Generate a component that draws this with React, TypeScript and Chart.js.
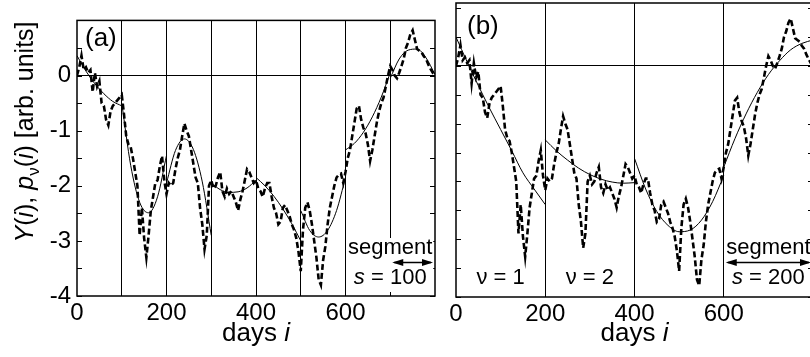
import React, { useEffect, useRef } from "react";
import { Chart, registerables } from "chart.js";
Chart.register(...registerables);

const FONT = "'Liberation Sans', Arial, Helvetica, sans-serif";

// profile Y(i), sampled every 5 days
const profileDays = [
  0, 5, 10, 15, 20, 25, 30, 35, 40, 45, 50, 55, 60, 65, 70, 75, 80, 85, 90, 95,
  100, 105, 110, 115, 120, 125, 130, 135, 140, 145, 150, 155, 160, 165, 170, 175, 180, 185, 190, 195,
  200, 205, 210, 215, 220, 225, 230, 235, 240, 245, 250, 255, 260, 265, 270, 275, 280, 285, 290, 295,
  300, 305, 310, 315, 320, 325, 330, 335, 340, 345, 350, 355, 360, 365, 370, 375, 380, 385, 390, 395,
  400, 405, 410, 415, 420, 425, 430, 435, 440, 445, 450, 455, 460, 465, 470, 475, 480, 485, 490, 495,
  500, 505, 510, 515, 520, 525, 530, 535, 540, 545, 550, 555, 560, 565, 570, 575, 580, 585, 590, 595,
  600, 605, 610, 615, 620, 625, 630, 635, 640, 645, 650, 655, 660, 665, 670, 675, 680, 685, 690, 695,
  700, 705, 710, 715, 720, 725, 730, 735, 740, 745, 750, 755, 760, 765, 770, 775, 780, 785, 790, 795,
  800,
];
const profileY = [
  0.0, 0.15, 0.36, 0.1, 0.15, 0.05, 0.1, -0.3, 0.05, -0.2, -0.1, -0.5, -0.55, -0.8, -0.9, -0.65, -0.55, -0.5, -0.45, -0.4,
  -0.35, -0.7, -1.1, -1.25, -1.3, -1.5, -1.75, -2.0, -2.9, -2.4, -2.95, -3.3, -2.9, -2.45, -2.2, -1.95, -1.9, -1.65, -1.46, -1.9,
  -2.15, -1.95, -2.0, -1.95, -1.7, -1.5, -1.35, -1.1, -0.87, -1.0, -1.1, -1.35, -1.6, -1.85, -1.95, -2.4, -2.7, -3.15, -2.9, -2.0,
  -1.9, -2.05, -2.0, -1.85, -1.75, -2.1, -2.2, -2.05, -2.15, -2.1, -2.2, -2.3, -2.45, -2.25, -2.1, -1.9, -1.7, -1.75, -1.85, -1.95,
  -1.9, -2.05, -2.1, -2.2, -2.05, -1.95, -1.95, -2.2, -2.4, -2.5, -2.7, -2.65, -2.4, -2.35, -2.45, -2.55, -2.7, -2.8, -2.95, -3.2,
  -3.55, -2.8, -2.4, -2.3, -2.45, -2.7, -3.0, -3.3, -3.7, -3.8, -3.35, -3.1, -2.7, -2.4, -2.2, -2.0, -1.85, -1.8, -1.78, -1.95,
  -1.75, -1.5, -1.35, -1.1, -0.85, -0.6, -0.55, -0.8, -0.95, -1.05, -1.25, -1.55, -1.35, -1.1, -0.85, -0.65, -0.5, -0.4, -0.2, 0.0,
  0.17, 0.1, 0.0, -0.05, 0.05, 0.17, 0.3, 0.5, 0.6, 0.75, 0.82, 0.65, 0.48, 0.45, 0.42, 0.35, 0.3, 0.2, 0.12, 0.05,
  0.0,
];

// panel (a): fits in segments of s = 100 days
const fitAStarts = [0, 100, 200, 300, 400, 500, 600, 700];
const fitAOffsets = [0, 20, 40, 60, 80, 100];
const fitAValues = [
  [0.36, 0.08, -0.15, -0.33, -0.47, -0.55],
  [-0.5, -1.63, -2.3, -2.49, -2.2, -1.45],
  [-1.95, -1.36, -1.15, -1.34, -1.93, -2.9],
  [-1.95, -2.07, -2.12, -2.11, -2.04, -1.9],
  [-1.85, -2.0, -2.19, -2.42, -2.69, -3.0],
  [-2.45, -2.81, -2.93, -2.81, -2.45, -1.85],
  [-1.35, -1.23, -1.03, -0.75, -0.39, 0.05],
  [-0.05, 0.3, 0.46, 0.48, 0.32, 0.02],
];

// panel (b): fits in segments of s = 200 days
const fitBStarts = [0, 200, 400, 600];
const fitBOffsets = [0, 25, 50, 75, 100, 125, 150, 175, 200];
const fitBValues = [
  [0.5, 0.07, -0.34, -0.73, -1.1, -1.47, -1.85, -2.13, -2.4],
  [-1.28, -1.47, -1.63, -1.77, -1.88, -1.96, -2.01, -2.03, -2.02],
  [-1.6, -2.13, -2.52, -2.76, -2.87, -2.84, -2.67, -2.35, -1.9],
  [-1.75, -1.26, -0.83, -0.46, -0.15, 0.09, 0.28, 0.39, 0.45],
];

const yTickValues = [-4, -3.5, -3, -2.5, -2, -1.5, -1, -0.5, 0, 0.5, 1];
const xLabelValues = [0, 200, 400, 600];

type Part = { t: string; it?: boolean; sub?: boolean };

function partFont(p: Part, size: number) {
  const s = p.sub ? size * 0.68 : size;
  return `${p.it ? "italic " : ""}${s}px ${FONT}`;
}
function richWidth(ctx: CanvasRenderingContext2D, parts: Part[], size: number) {
  let w = 0;
  for (const p of parts) {
    ctx.font = partFont(p, size);
    w += ctx.measureText(p.t).width;
  }
  return w;
}
function drawRich(
  ctx: CanvasRenderingContext2D,
  parts: Part[],
  x: number,
  y: number,
  size: number,
  align: "left" | "center" = "center"
) {
  const w = richWidth(ctx, parts, size);
  let cx = align === "center" ? x - w / 2 : x;
  ctx.textAlign = "left";
  ctx.textBaseline = "alphabetic";
  ctx.fillStyle = "#000";
  for (const p of parts) {
    ctx.font = partFont(p, size);
    ctx.fillText(p.t, cx, y + (p.sub ? size * 0.24 : 0));
    cx += ctx.measureText(p.t).width;
  }
}

function arrowHead(ctx: CanvasRenderingContext2D, x: number, y: number, dir: number) {
  ctx.beginPath();
  ctx.moveTo(x, y);
  ctx.lineTo(x - dir * 11, y - 3.5);
  ctx.lineTo(x - dir * 11, y + 3.5);
  ctx.closePath();
  ctx.fill();
}

function buildFit(starts: number[], offsets: number[], values: number[][]) {
  const pts: { x: number; y: number | null }[] = [];
  starts.forEach((s, k) => {
    offsets.forEach((o, j) => pts.push({ x: s + o, y: values[k][j] }));
    if (k < starts.length - 1) pts.push({ x: s + offsets[offsets.length - 1], y: null });
  });
  return pts;
}

type PanelOpts = {
  letter: string;
  letterDx: number;
  letterDy: number;
  yMax: number;
  xStep: number;
  yLabels: boolean;
  yAxisWidth: number;
  padRight: number;
  xAxisHeight: number;
  segStart: number;
  segLabel: string;
  segCenter: number;
  whiteBox: boolean;
  nuLabels: boolean;
  fit: { x: number; y: number | null }[];
};

function makeChart(canvas: HTMLCanvasElement, o: PanelOpts) {
  const profile = profileDays.map((d, k) => ({ x: d, y: profileY[k] }));
  const plugin = {
    id: "decor" + o.letter,
    afterDraw(chart: any) {
      const ctx: CanvasRenderingContext2D = chart.ctx;
      const ca = chart.chartArea;
      const xs = chart.scales.x;
      const ys = chart.scales.y;
      ctx.save();
      // box
      ctx.strokeStyle = "#000";
      ctx.lineWidth = 1.5;
      ctx.strokeRect(ca.left, ca.top, ca.right - ca.left, ca.bottom - ca.top);
      // inward ticks
      ctx.lineWidth = 1.2;
      for (const t of ys.ticks) {
        const py = Math.round(ys.getPixelForValue(t.value)) + 0.5;
        ctx.beginPath();
        ctx.moveTo(ca.left, py);
        ctx.lineTo(ca.left + 5, py);
        ctx.moveTo(ca.right, py);
        ctx.lineTo(ca.right - 5, py);
        ctx.stroke();
      }
      // y title
      if (o.yLabels) {
        ctx.save();
        ctx.translate(33, 132);
        ctx.rotate(-Math.PI / 2);
        drawRich(
          ctx,
          [
            { t: "Y", it: true },
            { t: "(" },
            { t: "i", it: true },
            { t: "), " },
            { t: "p", it: true },
            { t: "ν", sub: true },
            { t: "(" },
            { t: "i", it: true },
            { t: ") [arb. units]" },
          ],
          0,
          0,
          25
        );
        ctx.restore();
      }
      // x title
      drawRich(ctx, [{ t: "days " }, { t: "i", it: true }], (ca.left + ca.right) / 2, 341, 26);
      // panel letter
      drawRich(ctx, [{ t: o.letter }], ca.left + o.letterDx, ca.top + o.letterDy, 26, "left");
      // segment annotation
      const cx = xs.getPixelForValue(o.segCenter);
      if (o.whiteBox) {
        ctx.fillStyle = "#fff";
        ctx.fillRect(cx - 43, 238, 86, 54);
      }
      drawRich(ctx, [{ t: "segment" }], cx, 254, 22);
      const x1 = xs.getPixelForValue(o.segStart);
      const x2 = xs.getPixelForValue(800);
      ctx.fillStyle = "#000";
      ctx.strokeStyle = "#000";
      ctx.lineWidth = 1.6;
      ctx.beginPath();
      ctx.moveTo(x1 + 4, 262.5);
      ctx.lineTo(x2 - 4, 262.5);
      ctx.stroke();
      arrowHead(ctx, x1 + 2, 262.5, -1);
      arrowHead(ctx, x2 - 2, 262.5, 1);
      drawRich(ctx, [{ t: "s", it: true }, { t: " = " + o.segLabel }], cx, 284, 22);
      if (o.nuLabels) {
        drawRich(ctx, [{ t: "ν = 1" }], xs.getPixelForValue(100), 284, 22);
        drawRich(ctx, [{ t: "ν = 2" }], xs.getPixelForValue(300), 284, 22);
      }
      ctx.restore();
    },
  };

  return new Chart(canvas, {
    type: "line",
    data: {
      datasets: [
        {
          data: profile,
          borderColor: "#000",
          borderWidth: 2.6,
          borderDash: [6, 3],
          pointRadius: 0,
          tension: 0,
        },
        {
          data: o.fit,
          borderColor: "#000",
          borderWidth: 1,
          pointRadius: 0,
          cubicInterpolationMode: "monotone",
          spanGaps: false,
        },
      ],
    } as any,
    options: {
      responsive: false,
      animation: false,
      devicePixelRatio: 1,
      layout: { padding: { top: 3, right: o.padRight, left: 0, bottom: 0 } },
      plugins: { legend: { display: false }, tooltip: { enabled: false } },
      scales: {
        x: {
          type: "linear",
          min: 0,
          max: 800,
          ticks: {
            stepSize: o.xStep,
            color: "#000",
            font: { family: FONT, size: 24 },
            padding: 3,
            maxRotation: 0,
            autoSkip: false,
            callback: (v: any) => (xLabelValues.includes(Number(v)) ? String(v) : ""),
          },
          grid: {
            drawTicks: false,
            color: (c: any) =>
              c.tick && c.tick.value > 0 && c.tick.value < 800 ? "#000" : "rgba(0,0,0,0)",
            lineWidth: 1,
          },
          border: { display: false },
          afterFit: (s: any) => {
            s.height = o.xAxisHeight;
          },
        },
        y: {
          type: "linear",
          min: -4,
          max: o.yMax,
          afterBuildTicks: (s: any) => {
            s.ticks = yTickValues.map((v) => ({ value: v }));
          },
          ticks: {
            display: o.yLabels,
            color: "#000",
            font: { family: FONT, size: 24 },
            padding: 6,
            autoSkip: false,
            callback: (v: any) => (Number.isInteger(Number(v)) && Number(v) <= 0 ? String(v) : ""),
          },
          grid: {
            drawTicks: false,
            color: (c: any) => (c.tick && c.tick.value === 0 ? "#000" : "rgba(0,0,0,0)"),
            lineWidth: 1,
          },
          border: { display: false },
          afterFit: (s: any) => {
            s.width = o.yAxisWidth;
          },
        },
      },
    } as any,
    plugins: [plugin],
  });
}

export default function App() {
  const refA = useRef<HTMLCanvasElement>(null);
  const refB = useRef<HTMLCanvasElement>(null);
  useEffect(() => {
    const a = makeChart(refA.current!, {
      letter: "(a)",
      letterDx: 8,
      letterDy: 26,
      yMax: 1,
      xStep: 100,
      yLabels: true,
      yAxisWidth: 77,
      padRight: 10,
      xAxisHeight: 61,
      segStart: 700,
      segLabel: "100",
      segCenter: 700,
      whiteBox: true,
      nuLabels: false,
      fit: buildFit(fitAStarts, fitAOffsets, fitAValues),
    });
    const b = makeChart(refB.current!, {
      letter: "(b)",
      letterDx: 11,
      letterDy: 31,
      yMax: 1.09,
      xStep: 200,
      yLabels: false,
      yAxisWidth: 16,
      padRight: 17,
      xAxisHeight: 60,
      segStart: 600,
      segLabel: "200",
      segCenter: 700,
      whiteBox: false,
      nuLabels: true,
      fit: buildFit(fitBStarts, fitBOffsets, fitBValues),
    });
    return () => {
      a.destroy();
      b.destroy();
    };
  }, []);
  return (
    <div
      style={{
        position: "fixed",
        left: 0,
        top: 0,
        width: 810,
        height: 357,
        overflow: "hidden",
        background: "#fff",
      }}
    >
      <canvas ref={refA} width={445} height={357} style={{ position: "absolute", left: 0, top: 0 }} />
      <canvas ref={refB} width={390} height={357} style={{ position: "absolute", left: 440, top: 0 }} />
    </div>
  );
}
